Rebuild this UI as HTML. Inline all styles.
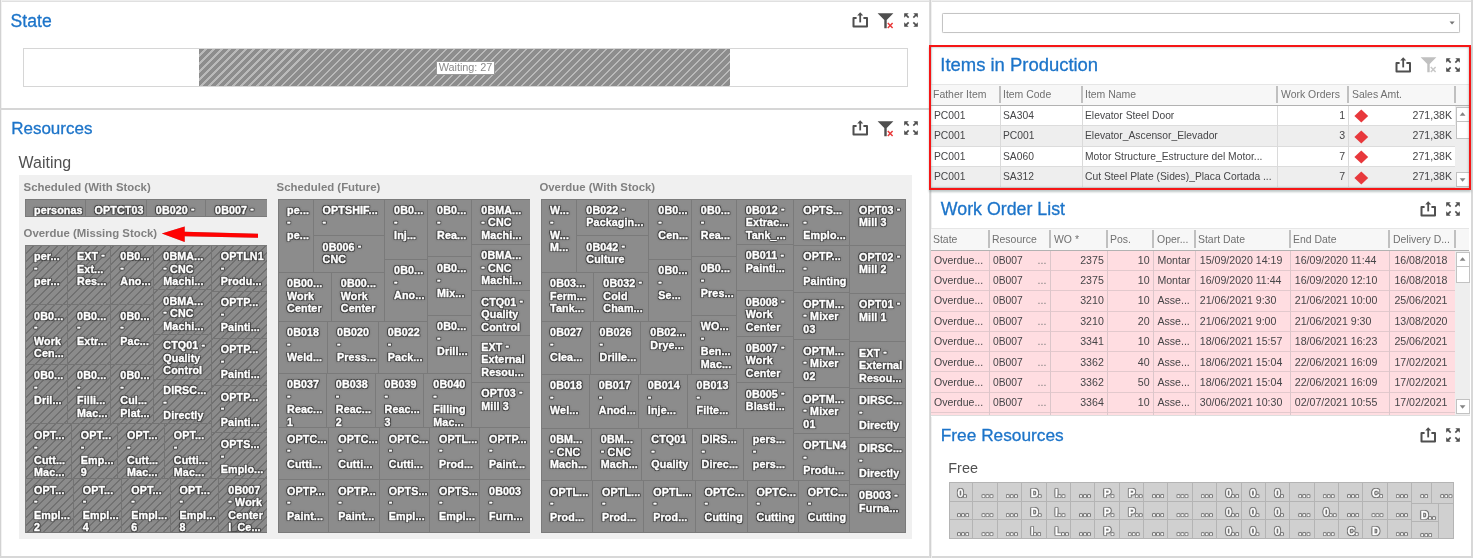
<!DOCTYPE html>
<html><head><meta charset="utf-8"><title>Dashboard</title>
<style>
*{box-sizing:border-box;margin:0;padding:0}
html,body{width:1473px;height:558px;overflow:hidden;background:#fff}
body{font-family:"Liberation Sans",sans-serif;position:relative;color:#404040}
#pg{position:absolute;left:0;top:0;width:1473px;height:558px;overflow:hidden;filter:blur(0.45px)}
.abs{position:absolute}
svg{overflow:visible}
.ttl{position:absolute;color:#1c74c9;white-space:nowrap;line-height:1;-webkit-text-stroke:0.3px #1c74c9}
.sub{position:absolute;color:#505050;white-space:nowrap;line-height:1}
.gt{position:absolute;font-weight:bold;font-size:11.4px;color:#808080;white-space:nowrap;line-height:1}
.tm{position:absolute;background:#8c8c8c;overflow:hidden}
.c{position:absolute;overflow:hidden;border-right:1px solid #7a7a7a;border-bottom:1px solid #7a7a7a;
   color:#fff;font-weight:bold;font-size:10.7px;line-height:12.5px;padding:4.5px 0 0 9.1px;white-space:nowrap;letter-spacing:0.12px;
   -webkit-text-stroke:0.35px #fff;
   text-shadow:1px 0 0 #424242,-1px 0 0 #424242,0 1px 0 #424242,0 -1px 0 #424242,1px 1px 0 #4c4c4c,-1px -1px 0 #4c4c4c,1px -1px 0 #4c4c4c,-1px 1px 0 #4c4c4c,0 0 2px #444,0 0 3px #555}
.c i,.fc i{font-style:normal;position:relative;top:-1.6px}
.hatch .c{border-color:#747474}
.fc{position:absolute;overflow:hidden;border-right:1px solid #b4b4b4;border-bottom:1px solid #b4b4b4;
   color:#fff;font-weight:bold;font-size:10.7px;line-height:12.6px;padding:4.1px 0 0 8.5px;white-space:nowrap;
   -webkit-text-stroke:0.3px #fff;
   text-shadow:1px 0 0 #707070,-1px 0 0 #707070,0 1px 0 #707070,0 -1px 0 #707070,1px 1px 0 #808080,-1px -1px 0 #808080,1px -1px 0 #808080,-1px 1px 0 #808080,0 0 2px #777}
.fc .d{letter-spacing:1.1px}
.hd{position:absolute;font-size:10.8px;color:#707070;white-space:nowrap;line-height:1}
.td{position:absolute;font-size:10.6px;color:#464648;white-space:nowrap;line-height:1}
.r{text-align:right}
</style></head><body><div id="pg">

<div class="abs" style="left:0;top:0;width:1473px;height:1px;background:#eeeeee"></div>
<div class="abs" style="left:0;top:1px;width:1473px;height:1px;background:#e0e0e0"></div>
<div class="abs" style="left:0;top:0;width:1px;height:558px;background:#d2d2d2"></div>
<div class="abs" style="left:1px;top:0;width:1px;height:558px;background:#f2f2f2"></div>
<div class="abs" style="left:0;top:108px;width:930px;height:2px;background:#d6d6d6"></div>
<div class="abs" style="left:0;top:556px;width:1473px;height:2px;background:#d8d8d8"></div>
<div class="abs" style="left:1471px;top:0;width:2px;height:558px;background:#d8d8d8"></div>
<div class="abs" style="left:929px;top:0;width:1px;height:558px;background:#dcdcdc"></div>
<div class="abs" style="left:930px;top:0;width:1px;height:558px;background:#d2d2d2"></div>
<div class="abs" style="left:931px;top:0;width:1px;height:558px;background:#f0f0f0"></div>
<div class="ttl" style="left:10.6px;top:12.50px;font-size:17.6px;">State</div>
<div class="ttl" style="left:11.2px;top:120.30px;font-size:17.0px;">Resources</div>
<div class="sub" style="left:18.6px;top:154.83px;font-size:15.95px;">Waiting</div>
<div class="ttl" style="left:940.3px;top:55.57px;font-size:18.45px;">Items in Production</div>
<div class="ttl" style="left:940.8px;top:201.40px;font-size:17.8px;">Work Order List</div>
<div class="ttl" style="left:940.8px;top:426.65px;font-size:17.3px;">Free Resources</div>
<div class="sub" style="left:948.3px;top:461.10px;font-size:14.4px;">Free</div>
<svg class="abs" style="left:852.3px;top:12.4px" width="17" height="17" viewBox="0 0 17 17"><path d="M4.6 6 H1.5 V14.5 H15 V6 H11.4" fill="none" stroke="#4f4f4f" stroke-width="2" stroke-linejoin="round"/><path d="M8.2 10.4 V2.5" fill="none" stroke="#4f4f4f" stroke-width="1.8"/><path d="M8.2 0.2 L11.2 3.6 H5.2 Z" fill="#4f4f4f"/></svg>
<svg class="abs" style="left:878.1px;top:12.7px" width="17" height="17" viewBox="0 0 17 17"><path d="M-0.4 0.2 H15.4 L8.7 7 V15.2 H6.3 V7 Z" fill="#4f4f4f"/><path d="M9.8 10 L14.6 15 M14.6 10 L9.8 15" stroke="#e83a3a" stroke-width="1.5" fill="none"/></svg>
<svg class="abs" style="left:904px;top:13.1px" width="14" height="14" viewBox="0 0 13.8 13.8"><path d="M0.2 0.2 L4.6000000000000005 0.2 L0.2 4.6000000000000005 Z" fill="#4f4f4f"/><path d="M1.4 1.4 L4.6000000000000005 4.6000000000000005" stroke="#4f4f4f" stroke-width="1.6"/><path d="M13.6 0.2 L9.2 0.2 L13.6 4.6000000000000005 Z" fill="#4f4f4f"/><path d="M12.4 1.4 L9.2 4.6000000000000005" stroke="#4f4f4f" stroke-width="1.6"/><path d="M0.2 13.6 L4.6000000000000005 13.6 L0.2 9.2 Z" fill="#4f4f4f"/><path d="M1.4 12.4 L4.6000000000000005 9.2" stroke="#4f4f4f" stroke-width="1.6"/><path d="M13.6 13.6 L9.2 13.6 L13.6 9.2 Z" fill="#4f4f4f"/><path d="M12.4 12.4 L9.2 9.2" stroke="#4f4f4f" stroke-width="1.6"/></svg>
<svg class="abs" style="left:852.3px;top:120.4px" width="17" height="17" viewBox="0 0 17 17"><path d="M4.6 6 H1.5 V14.5 H15 V6 H11.4" fill="none" stroke="#4f4f4f" stroke-width="2" stroke-linejoin="round"/><path d="M8.2 10.4 V2.5" fill="none" stroke="#4f4f4f" stroke-width="1.8"/><path d="M8.2 0.2 L11.2 3.6 H5.2 Z" fill="#4f4f4f"/></svg>
<svg class="abs" style="left:878.1px;top:120.7px" width="17" height="17" viewBox="0 0 17 17"><path d="M-0.4 0.2 H15.4 L8.7 7 V15.2 H6.3 V7 Z" fill="#4f4f4f"/><path d="M9.8 10 L14.6 15 M14.6 10 L9.8 15" stroke="#e83a3a" stroke-width="1.5" fill="none"/></svg>
<svg class="abs" style="left:904px;top:121.1px" width="14" height="14" viewBox="0 0 13.8 13.8"><path d="M0.2 0.2 L4.6000000000000005 0.2 L0.2 4.6000000000000005 Z" fill="#4f4f4f"/><path d="M1.4 1.4 L4.6000000000000005 4.6000000000000005" stroke="#4f4f4f" stroke-width="1.6"/><path d="M13.6 0.2 L9.2 0.2 L13.6 4.6000000000000005 Z" fill="#4f4f4f"/><path d="M12.4 1.4 L9.2 4.6000000000000005" stroke="#4f4f4f" stroke-width="1.6"/><path d="M0.2 13.6 L4.6000000000000005 13.6 L0.2 9.2 Z" fill="#4f4f4f"/><path d="M1.4 12.4 L4.6000000000000005 9.2" stroke="#4f4f4f" stroke-width="1.6"/><path d="M13.6 13.6 L9.2 13.6 L13.6 9.2 Z" fill="#4f4f4f"/><path d="M12.4 12.4 L9.2 9.2" stroke="#4f4f4f" stroke-width="1.6"/></svg>
<svg class="abs" style="left:1394.8px;top:56.8px" width="17" height="17" viewBox="0 0 17 17"><path d="M4.6 6 H1.5 V14.5 H15 V6 H11.4" fill="none" stroke="#4f4f4f" stroke-width="2" stroke-linejoin="round"/><path d="M8.2 10.4 V2.5" fill="none" stroke="#4f4f4f" stroke-width="1.8"/><path d="M8.2 0.2 L11.2 3.6 H5.2 Z" fill="#4f4f4f"/></svg>
<svg class="abs" style="left:1420.5px;top:57.2px" width="17" height="17" viewBox="0 0 17 17"><path d="M-0.4 0.2 H15.4 L8.7 7 V15.2 H6.3 V7 Z" fill="#c0c0c0"/><path d="M9.8 10 L14.6 15 M14.6 10 L9.8 15" stroke="#c8c8c8" stroke-width="1.5" fill="none"/></svg>
<svg class="abs" style="left:1446.2px;top:57.8px" width="14" height="14" viewBox="0 0 13.8 13.8"><path d="M0.2 0.2 L4.6000000000000005 0.2 L0.2 4.6000000000000005 Z" fill="#4f4f4f"/><path d="M1.4 1.4 L4.6000000000000005 4.6000000000000005" stroke="#4f4f4f" stroke-width="1.6"/><path d="M13.6 0.2 L9.2 0.2 L13.6 4.6000000000000005 Z" fill="#4f4f4f"/><path d="M12.4 1.4 L9.2 4.6000000000000005" stroke="#4f4f4f" stroke-width="1.6"/><path d="M0.2 13.6 L4.6000000000000005 13.6 L0.2 9.2 Z" fill="#4f4f4f"/><path d="M1.4 12.4 L4.6000000000000005 9.2" stroke="#4f4f4f" stroke-width="1.6"/><path d="M13.6 13.6 L9.2 13.6 L13.6 9.2 Z" fill="#4f4f4f"/><path d="M12.4 12.4 L9.2 9.2" stroke="#4f4f4f" stroke-width="1.6"/></svg>
<svg class="abs" style="left:1420px;top:200.8px" width="17" height="17" viewBox="0 0 17 17"><path d="M4.6 6 H1.5 V14.5 H15 V6 H11.4" fill="none" stroke="#4f4f4f" stroke-width="2" stroke-linejoin="round"/><path d="M8.2 10.4 V2.5" fill="none" stroke="#4f4f4f" stroke-width="1.8"/><path d="M8.2 0.2 L11.2 3.6 H5.2 Z" fill="#4f4f4f"/></svg>
<svg class="abs" style="left:1446.2px;top:201.8px" width="14" height="14" viewBox="0 0 13.8 13.8"><path d="M0.2 0.2 L4.6000000000000005 0.2 L0.2 4.6000000000000005 Z" fill="#4f4f4f"/><path d="M1.4 1.4 L4.6000000000000005 4.6000000000000005" stroke="#4f4f4f" stroke-width="1.6"/><path d="M13.6 0.2 L9.2 0.2 L13.6 4.6000000000000005 Z" fill="#4f4f4f"/><path d="M12.4 1.4 L9.2 4.6000000000000005" stroke="#4f4f4f" stroke-width="1.6"/><path d="M0.2 13.6 L4.6000000000000005 13.6 L0.2 9.2 Z" fill="#4f4f4f"/><path d="M1.4 12.4 L4.6000000000000005 9.2" stroke="#4f4f4f" stroke-width="1.6"/><path d="M13.6 13.6 L9.2 13.6 L13.6 9.2 Z" fill="#4f4f4f"/><path d="M12.4 12.4 L9.2 9.2" stroke="#4f4f4f" stroke-width="1.6"/></svg>
<svg class="abs" style="left:1420px;top:426.8px" width="17" height="17" viewBox="0 0 17 17"><path d="M4.6 6 H1.5 V14.5 H15 V6 H11.4" fill="none" stroke="#4f4f4f" stroke-width="2" stroke-linejoin="round"/><path d="M8.2 10.4 V2.5" fill="none" stroke="#4f4f4f" stroke-width="1.8"/><path d="M8.2 0.2 L11.2 3.6 H5.2 Z" fill="#4f4f4f"/></svg>
<svg class="abs" style="left:1446.2px;top:427.8px" width="14" height="14" viewBox="0 0 13.8 13.8"><path d="M0.2 0.2 L4.6000000000000005 0.2 L0.2 4.6000000000000005 Z" fill="#4f4f4f"/><path d="M1.4 1.4 L4.6000000000000005 4.6000000000000005" stroke="#4f4f4f" stroke-width="1.6"/><path d="M13.6 0.2 L9.2 0.2 L13.6 4.6000000000000005 Z" fill="#4f4f4f"/><path d="M12.4 1.4 L9.2 4.6000000000000005" stroke="#4f4f4f" stroke-width="1.6"/><path d="M0.2 13.6 L4.6000000000000005 13.6 L0.2 9.2 Z" fill="#4f4f4f"/><path d="M1.4 12.4 L4.6000000000000005 9.2" stroke="#4f4f4f" stroke-width="1.6"/><path d="M13.6 13.6 L9.2 13.6 L13.6 9.2 Z" fill="#4f4f4f"/><path d="M12.4 12.4 L9.2 9.2" stroke="#4f4f4f" stroke-width="1.6"/></svg>
<div class="abs" style="left:23px;top:48px;width:885px;height:39px;border:1px solid #d6d6d6;background:#fff"></div>
<div class="abs" style="left:199px;top:48.5px;width:531px;height:37.5px;background:repeating-linear-gradient(135deg,#8d8d8d 0,#8d8d8d 4.2px,#bababa 4.2px,#bababa 5.66px)"></div>
<div class="abs" style="left:436px;top:60.5px;width:59px;height:14px;background:#fff;border:1px solid #9a9a9a;font-size:10.9px;line-height:10.4px;text-align:center;color:#8a8a8a;white-space:nowrap;overflow:hidden;letter-spacing:-0.05px">Waiting: 27</div>
<div class="abs" style="left:18.75px;top:175px;width:893.5px;height:363.6px;background:#f0f0f0"></div>
<div class="gt" style="left:23.6px;top:181.60px">Scheduled (With Stock)</div>
<div class="gt" style="left:23.6px;top:227.60px">Overdue (Missing Stock)</div>
<div class="gt" style="left:276.6px;top:181.60px">Scheduled (Future)</div>
<div class="gt" style="left:539.4px;top:181.60px">Overdue (With Stock)</div>
<div class="tm" style="left:24.5px;top:198.75px;width:242.50px;height:18.00px;border-left:1px solid #7b7b7b;border-top:1px solid #7b7b7b">
<div class="c" style="left:-0.50px;top:-0.50px;width:60.50px;height:18.00px">personas</div>
<div class="c" style="left:60.00px;top:-0.50px;width:61.25px;height:18.00px">OPTCT03</div>
<div class="c" style="left:121.25px;top:-0.50px;width:59.25px;height:18.00px">0B020 <i>-</i></div>
<div class="c" style="left:180.50px;top:-0.50px;width:61.50px;height:18.00px">0B007 <i>-</i></div>
</div>
<div class="tm hatch" style="left:24.5px;top:245px;width:242.50px;height:287.75px;background:repeating-linear-gradient(135deg,#8b8b8b 0,#8b8b8b 4.45px,#717171 4.45px,#717171 5.66px);border-left:1px solid #7b7b7b;border-top:1px solid #7b7b7b">
<div class="c" style="left:-0.50px;top:-0.50px;width:43.00px;height:59.50px">per...<br><i>-</i><br>per...</div>
<div class="c" style="left:42.50px;top:-0.50px;width:43.25px;height:59.50px">EXT <i>-</i><br>Ext...<br>Res...</div>
<div class="c" style="left:85.75px;top:-0.50px;width:43.00px;height:59.50px">0B0...<br><i>-</i><br>Ano...</div>
<div class="c" style="left:-0.50px;top:59.00px;width:43.00px;height:59.75px">0B0...<br><i>-</i><br>Work<br>Cen...</div>
<div class="c" style="left:42.50px;top:59.00px;width:43.25px;height:59.75px">0B0...<br><i>-</i><br>Extr...</div>
<div class="c" style="left:85.75px;top:59.00px;width:43.00px;height:59.75px">0B0...<br><i>-</i><br>Pac...</div>
<div class="c" style="left:-0.50px;top:118.75px;width:43.00px;height:59.50px">0B0...<br><i>-</i><br>Dril...</div>
<div class="c" style="left:42.50px;top:118.75px;width:43.25px;height:59.50px">0B0...<br><i>-</i><br>Filli...<br>Mac...</div>
<div class="c" style="left:85.75px;top:118.75px;width:43.00px;height:59.50px">0B0...<br><i>-</i><br>Cul...<br>Plat...</div>
<div class="c" style="left:128.75px;top:-0.50px;width:57.50px;height:44.50px">0BMA...<br><i>-</i> CNC<br>Machi...</div>
<div class="c" style="left:128.75px;top:44.00px;width:57.50px;height:44.75px">0BMA...<br><i>-</i> CNC<br>Machi...</div>
<div class="c" style="left:128.75px;top:88.75px;width:57.50px;height:45.00px">CTQ01 <i>-</i><br>Quality<br>Control</div>
<div class="c" style="left:128.75px;top:133.75px;width:57.50px;height:44.50px">DIRSC...<br><i>-</i><br>Directly</div>
<div class="c" style="left:186.25px;top:-0.50px;width:55.75px;height:46.25px">OPTLN1<br><i>-</i><br>Produ...</div>
<div class="c" style="left:186.25px;top:45.75px;width:55.75px;height:46.75px">OPTP...<br><i>-</i><br>Painti...</div>
<div class="c" style="left:186.25px;top:92.50px;width:55.75px;height:47.50px">OPTP...<br><i>-</i><br>Painti...</div>
<div class="c" style="left:186.25px;top:140.00px;width:55.75px;height:47.25px">OPTP...<br><i>-</i><br>Painti...</div>
<div class="c" style="left:186.25px;top:187.25px;width:55.75px;height:45.75px">OPTS...<br><i>-</i><br>Emplo...</div>
<div class="c" style="left:-0.50px;top:178.25px;width:46.75px;height:54.75px">OPT...<br><i>-</i><br>Cutt...<br>Mac...</div>
<div class="c" style="left:46.25px;top:178.25px;width:46.25px;height:54.75px">OPT...<br><i>-</i><br>Emp...<br>9</div>
<div class="c" style="left:92.50px;top:178.25px;width:46.75px;height:54.75px">OPT...<br><i>-</i><br>Cutt...<br>Mac...</div>
<div class="c" style="left:139.25px;top:178.25px;width:47.00px;height:54.75px">OPT...<br><i>-</i><br>Cutti...<br>Mac...</div>
<div class="c" style="left:-0.50px;top:233.00px;width:48.75px;height:54.25px">OPT...<br><i>-</i><br>Empl...<br>2</div>
<div class="c" style="left:48.25px;top:233.00px;width:48.50px;height:54.25px">OPT...<br><i>-</i><br>Empl...<br>4</div>
<div class="c" style="left:96.75px;top:233.00px;width:48.25px;height:54.25px">OPT...<br><i>-</i><br>Empl...<br>6</div>
<div class="c" style="left:145.00px;top:233.00px;width:48.75px;height:54.25px">OPT...<br><i>-</i><br>Empl...<br>8</div>
<div class="c" style="left:193.75px;top:233.00px;width:48.25px;height:54.25px">0B007<br><i>-</i> Work<br>Center<br>I_Ce...</div>
</div>
<div class="tm" style="left:277.5px;top:198.75px;width:252.50px;height:333.75px;border-left:1px solid #7b7b7b;border-top:1px solid #7b7b7b">
<div class="c" style="left:-0.50px;top:-0.50px;width:35.50px;height:73.25px">pe...<br><i>-</i><br>pe...</div>
<div class="c" style="left:35.00px;top:-0.50px;width:71.50px;height:36.75px">OPTSHIF...<br><i>-</i></div>
<div class="c" style="left:35.00px;top:36.25px;width:71.50px;height:36.50px">0B006 <i>-</i><br>CNC</div>
<div class="c" style="left:106.50px;top:-0.50px;width:43.00px;height:60.50px">0B0...<br><i>-</i><br>Inj...</div>
<div class="c" style="left:106.50px;top:60.00px;width:43.00px;height:62.00px">0B0...<br><i>-</i><br>Ano...</div>
<div class="c" style="left:149.50px;top:-0.50px;width:44.25px;height:58.00px">0B0...<br><i>-</i><br>Rea...</div>
<div class="c" style="left:149.50px;top:57.50px;width:44.25px;height:58.25px">0B0...<br><i>-</i><br>Mix...</div>
<div class="c" style="left:149.50px;top:115.75px;width:44.25px;height:58.25px">0B0...<br><i>-</i><br>Drill...</div>
<div class="c" style="left:193.75px;top:-0.50px;width:58.25px;height:45.50px">0BMA...<br><i>-</i> CNC<br>Machi...</div>
<div class="c" style="left:193.75px;top:45.00px;width:58.25px;height:46.25px">0BMA...<br><i>-</i> CNC<br>Machi...</div>
<div class="c" style="left:193.75px;top:91.25px;width:58.25px;height:45.25px">CTQ01 <i>-</i><br>Quality<br>Control</div>
<div class="c" style="left:193.75px;top:136.50px;width:58.25px;height:46.25px">EXT <i>-</i><br>External<br>Resou...</div>
<div class="c" style="left:193.75px;top:182.75px;width:58.25px;height:45.50px">OPT03 <i>-</i><br>Mill 3</div>
<div class="c" style="left:-0.50px;top:72.75px;width:53.75px;height:49.25px">0B00...<br>Work<br>Center</div>
<div class="c" style="left:53.25px;top:72.75px;width:53.25px;height:49.25px">0B00...<br>Work<br>Center</div>
<div class="c" style="left:-0.50px;top:122.00px;width:50.00px;height:52.00px">0B018<br><i>-</i><br>Weld...</div>
<div class="c" style="left:49.50px;top:122.00px;width:50.75px;height:52.00px">0B020<br><i>-</i><br>Press...</div>
<div class="c" style="left:100.25px;top:122.00px;width:49.25px;height:52.00px">0B022<br><i>-</i><br>Pack...</div>
<div class="c" style="left:-0.50px;top:174.00px;width:48.75px;height:54.25px">0B037<br><i>-</i><br>Reac...<br>1</div>
<div class="c" style="left:48.25px;top:174.00px;width:48.75px;height:54.25px">0B038<br><i>-</i><br>Reac...<br>2</div>
<div class="c" style="left:97.00px;top:174.00px;width:48.75px;height:54.25px">0B039<br><i>-</i><br>Reac...<br>3</div>
<div class="c" style="left:145.75px;top:174.00px;width:48.00px;height:54.25px">0B040<br><i>-</i><br>Filling<br>Mac...</div>
<div class="c" style="left:-0.50px;top:228.25px;width:51.25px;height:52.00px">OPTC...<br><i>-</i><br>Cutti...</div>
<div class="c" style="left:50.75px;top:228.25px;width:50.50px;height:52.00px">OPTC...<br><i>-</i><br>Cutti...</div>
<div class="c" style="left:101.25px;top:228.25px;width:50.25px;height:52.00px">OPTC...<br><i>-</i><br>Cutti...</div>
<div class="c" style="left:151.50px;top:228.25px;width:50.00px;height:52.00px">OPTL...<br><i>-</i><br>Prod...</div>
<div class="c" style="left:201.50px;top:228.25px;width:50.50px;height:52.00px">OPTP...<br><i>-</i><br>Paint...</div>
<div class="c" style="left:-0.50px;top:280.25px;width:51.25px;height:53.00px">OPTP...<br><i>-</i><br>Paint...</div>
<div class="c" style="left:50.75px;top:280.25px;width:50.50px;height:53.00px">OPTP...<br><i>-</i><br>Paint...</div>
<div class="c" style="left:101.25px;top:280.25px;width:50.25px;height:53.00px">OPTS...<br><i>-</i><br>Empl...</div>
<div class="c" style="left:151.50px;top:280.25px;width:50.00px;height:53.00px">OPTS...<br><i>-</i><br>Empl...</div>
<div class="c" style="left:201.50px;top:280.25px;width:50.50px;height:53.00px">0B003<br><i>-</i><br>Furn...</div>
</div>
<div class="tm" style="left:540.5px;top:198.75px;width:365.25px;height:333.75px;border-left:1px solid #7b7b7b;border-top:1px solid #7b7b7b">
<div class="c" style="left:-0.50px;top:-0.50px;width:36.25px;height:73.25px">W...<br><i>-</i><br>W...<br>M...</div>
<div class="c" style="left:35.75px;top:-0.50px;width:72.00px;height:36.75px">0B022 <i>-</i><br>Packagin...</div>
<div class="c" style="left:35.75px;top:36.25px;width:72.00px;height:36.50px">0B042 <i>-</i><br>Culture</div>
<div class="c" style="left:107.75px;top:-0.50px;width:42.50px;height:60.50px">0B0...<br><i>-</i><br>Cen...</div>
<div class="c" style="left:107.75px;top:60.00px;width:42.50px;height:62.00px">0B0...<br><i>-</i><br>Se...</div>
<div class="c" style="left:150.25px;top:-0.50px;width:45.00px;height:58.00px">0B0...<br><i>-</i><br>Rea...</div>
<div class="c" style="left:150.25px;top:57.50px;width:45.00px;height:58.25px">0B0...<br><i>-</i><br>Pres...</div>
<div class="c" style="left:150.25px;top:115.75px;width:45.00px;height:59.25px">WO...<br><i>-</i><br>Ben...<br>Mac...</div>
<div class="c" style="left:-0.50px;top:72.75px;width:53.25px;height:49.25px">0B03...<br>Ferm...<br>Tank...</div>
<div class="c" style="left:52.75px;top:72.75px;width:55.00px;height:49.25px">0B032 <i>-</i><br>Cold<br>Cham...</div>
<div class="c" style="left:-0.50px;top:122.00px;width:49.50px;height:53.00px">0B027<br><i>-</i><br>Clea...</div>
<div class="c" style="left:49.00px;top:122.00px;width:50.75px;height:53.00px">0B026<br><i>-</i><br>Drille...</div>
<div class="c" style="left:99.75px;top:122.00px;width:50.50px;height:53.00px">0B02...<br>Drye...</div>
<div class="c" style="left:-0.50px;top:175.00px;width:48.75px;height:53.75px">0B018<br><i>-</i><br>Wel...</div>
<div class="c" style="left:48.25px;top:175.00px;width:49.00px;height:53.75px">0B017<br><i>-</i><br>Anod...</div>
<div class="c" style="left:97.25px;top:175.00px;width:48.75px;height:53.75px">0B014<br><i>-</i><br>Inje...</div>
<div class="c" style="left:146.00px;top:175.00px;width:49.25px;height:53.75px">0B013<br><i>-</i><br>Filte...</div>
<div class="c" style="left:195.25px;top:-0.50px;width:57.50px;height:45.50px">0B012 <i>-</i><br>Extrac...<br>Tank_...</div>
<div class="c" style="left:195.25px;top:45.00px;width:57.50px;height:46.25px">0B011 <i>-</i><br>Painti...</div>
<div class="c" style="left:195.25px;top:91.25px;width:57.50px;height:46.25px">0B008 <i>-</i><br>Work<br>Center</div>
<div class="c" style="left:195.25px;top:137.50px;width:57.50px;height:45.75px">0B007 <i>-</i><br>Work<br>Center</div>
<div class="c" style="left:195.25px;top:183.25px;width:57.50px;height:45.50px">0B005 <i>-</i><br>Blasti...</div>
<div class="c" style="left:252.75px;top:-0.50px;width:55.75px;height:46.25px">OPTS...<br><i>-</i><br>Emplo...</div>
<div class="c" style="left:252.75px;top:45.75px;width:55.75px;height:47.50px">OPTP...<br><i>-</i><br>Painting</div>
<div class="c" style="left:252.75px;top:93.25px;width:55.75px;height:47.00px">OPTM...<br><i>-</i> Mixer<br>03</div>
<div class="c" style="left:252.75px;top:140.25px;width:55.75px;height:48.00px">OPTM...<br><i>-</i> Mixer<br>02</div>
<div class="c" style="left:252.75px;top:188.25px;width:55.75px;height:46.25px">OPTM...<br><i>-</i> Mixer<br>01</div>
<div class="c" style="left:252.75px;top:234.50px;width:55.75px;height:46.75px">OPTLN4<br><i>-</i><br>Produ...</div>
<div class="c" style="left:308.50px;top:-0.50px;width:56.25px;height:47.00px">OPT03 <i>-</i><br>Mill 3</div>
<div class="c" style="left:308.50px;top:46.50px;width:56.25px;height:47.25px">OPT02 <i>-</i><br>Mill 2</div>
<div class="c" style="left:308.50px;top:93.75px;width:56.25px;height:48.75px">OPT01 <i>-</i><br>Mill 1</div>
<div class="c" style="left:308.50px;top:142.50px;width:56.25px;height:47.00px">EXT <i>-</i><br>External<br>Resou...</div>
<div class="c" style="left:308.50px;top:189.50px;width:56.25px;height:48.25px">DIRSC...<br><i>-</i><br>Directly</div>
<div class="c" style="left:308.50px;top:237.75px;width:56.25px;height:47.25px">DIRSC...<br><i>-</i><br>Directly</div>
<div class="c" style="left:308.50px;top:285.00px;width:56.25px;height:48.25px">0B003 <i>-</i><br>Furna...</div>
<div class="c" style="left:-0.50px;top:228.75px;width:50.75px;height:52.50px">0BM...<br><i>-</i> CNC<br>Mach...</div>
<div class="c" style="left:50.25px;top:228.75px;width:50.50px;height:52.50px">0BM...<br><i>-</i> CNC<br>Mach...</div>
<div class="c" style="left:100.75px;top:228.75px;width:50.25px;height:52.50px">CTQ01<br><i>-</i><br>Quality</div>
<div class="c" style="left:151.00px;top:228.75px;width:51.25px;height:52.50px">DIRS...<br><i>-</i><br>Direc...</div>
<div class="c" style="left:202.25px;top:228.75px;width:50.50px;height:52.50px">pers...<br><i>-</i><br>pers...</div>
<div class="c" style="left:-0.50px;top:281.25px;width:52.00px;height:52.00px">OPTL...<br><i>-</i><br>Prod...</div>
<div class="c" style="left:51.50px;top:281.25px;width:51.25px;height:52.00px">OPTL...<br><i>-</i><br>Prod...</div>
<div class="c" style="left:102.75px;top:281.25px;width:51.25px;height:52.00px">OPTL...<br><i>-</i><br>Prod...</div>
<div class="c" style="left:154.00px;top:281.25px;width:52.00px;height:52.00px">OPTC...<br><i>-</i><br>Cutting</div>
<div class="c" style="left:206.00px;top:281.25px;width:51.25px;height:52.00px">OPTC...<br><i>-</i><br>Cutting</div>
<div class="c" style="left:257.25px;top:281.25px;width:51.25px;height:52.00px">OPTC...<br><i>-</i><br>Cutting</div>
</div>
<svg class="abs" style="left:158px;top:222px;filter:drop-shadow(0.8px 0.8px 0.6px rgba(90,115,125,.55))" width="106" height="24" viewBox="158 222 106 24"><path d="M161.8 233.5 L184.7 226.4 L184.7 231.8 L258 233.85 L258 237.8 L184.7 236.3 L184.7 242.1 Z" fill="#ff0202"/></svg>
<div class="abs" style="left:942px;top:13px;width:518px;height:19.5px;border:1px solid #c4c4c4;border-radius:1.5px;box-shadow:0 0 0.8px #cfcfcf;background:#fff"></div>
<svg class="abs" style="left:1448.6px;top:21.2px" width="6.2" height="4" viewBox="0 0 7 5"><path d="M0.3 0.5 H6.7 L3.5 4.3 Z" fill="#747474"/></svg>
<div class="abs" style="left:931px;top:84px;width:538px;height:21px;background:#f7f7f7;border-top:1px solid #e6e6e6"></div>
<div class="abs" style="left:931px;top:105px;width:538px;height:1px;background:#b2b2b2"></div>
<div class="abs" style="left:999px;top:86px;width:2px;height:17px;background:#c0c0c0"></div>
<div class="abs" style="left:1081px;top:86px;width:2px;height:17px;background:#c0c0c0"></div>
<div class="abs" style="left:1276px;top:86px;width:2px;height:17px;background:#c0c0c0"></div>
<div class="abs" style="left:1347px;top:86px;width:2px;height:17px;background:#c0c0c0"></div>
<div class="abs" style="left:1454px;top:86px;width:2px;height:17px;background:#c0c0c0"></div>
<div class="hd" style="left:933px;top:88.80px;font-size:11px;transform:scaleX(0.95);transform-origin:left;">Father Item</div>
<div class="hd" style="left:1003.3px;top:88.80px;font-size:11px;transform:scaleX(0.95);transform-origin:left;">Item Code</div>
<div class="hd" style="left:1085.3px;top:88.80px;font-size:11px;transform:scaleX(0.95);transform-origin:left;">Item Name</div>
<div class="hd" style="left:1280.5px;top:88.80px;font-size:11px;transform:scaleX(0.95);transform-origin:left;">Work Orders</div>
<div class="hd" style="left:1351.8px;top:88.80px;font-size:11px;transform:scaleX(0.95);transform-origin:left;">Sales Amt.</div>
<div class="abs" style="left:931px;top:106px;width:524.5px;height:20px;background:#ffffff;border-bottom:1px solid #dcdcdc"></div>
<div class="td" style="left:934.2px;top:110.00px;font-size:10.6px;transform:scaleX(0.972);transform-origin:left;">PC001</div>
<div class="td" style="left:1003.2px;top:110.00px;font-size:10.6px;transform:scaleX(0.972);transform-origin:left;">SA304</div>
<div class="td" style="left:1085.4px;top:110.00px;font-size:10.6px;transform:scaleX(0.972);transform-origin:left;">Elevator Steel Door</div>
<div class="td r" style="left:1305.2px;width:40px;top:110.00px;font-size:10.6px;transform:scaleX(1.0);transform-origin:right;">1</div>
<div class="td r" style="left:1392px;width:60px;top:110.00px;font-size:10.6px;transform:scaleX(1.0);transform-origin:right;">271,38K</div>
<svg class="abs" style="left:1354px;top:109.20px" width="15" height="14" viewBox="0 0 15 14"><path d="M7.3 0.4 L14.2 7 L7.3 13.6 L0.4 7 Z" fill="#e8383c"/></svg>
<div class="abs" style="left:931px;top:126px;width:524.5px;height:21px;background:#eeeeee;border-bottom:1px solid #dcdcdc"></div>
<div class="td" style="left:934.2px;top:130.00px;font-size:10.6px;transform:scaleX(0.972);transform-origin:left;">PC001</div>
<div class="td" style="left:1003.2px;top:130.00px;font-size:10.6px;transform:scaleX(0.972);transform-origin:left;">PC001</div>
<div class="td" style="left:1085.4px;top:130.00px;font-size:10.6px;transform:scaleX(0.972);transform-origin:left;">Elevator_Ascensor_Elevador</div>
<div class="td r" style="left:1305.2px;width:40px;top:130.00px;font-size:10.6px;transform:scaleX(1.0);transform-origin:right;">3</div>
<div class="td r" style="left:1392px;width:60px;top:130.00px;font-size:10.6px;transform:scaleX(1.0);transform-origin:right;">271,38K</div>
<svg class="abs" style="left:1354px;top:129.70px" width="15" height="14" viewBox="0 0 15 14"><path d="M7.3 0.4 L14.2 7 L7.3 13.6 L0.4 7 Z" fill="#e8383c"/></svg>
<div class="abs" style="left:931px;top:147px;width:524.5px;height:20px;background:#ffffff;border-bottom:1px solid #dcdcdc"></div>
<div class="td" style="left:934.2px;top:151.00px;font-size:10.6px;transform:scaleX(0.972);transform-origin:left;">PC001</div>
<div class="td" style="left:1003.2px;top:151.00px;font-size:10.6px;transform:scaleX(0.972);transform-origin:left;">SA060</div>
<div class="td" style="left:1085.4px;top:151.00px;font-size:10.6px;transform:scaleX(0.972);transform-origin:left;">Motor Structure_Estructure del Motor...</div>
<div class="td r" style="left:1305.2px;width:40px;top:151.00px;font-size:10.6px;transform:scaleX(1.0);transform-origin:right;">7</div>
<div class="td r" style="left:1392px;width:60px;top:151.00px;font-size:10.6px;transform:scaleX(1.0);transform-origin:right;">271,38K</div>
<svg class="abs" style="left:1354px;top:150.20px" width="15" height="14" viewBox="0 0 15 14"><path d="M7.3 0.4 L14.2 7 L7.3 13.6 L0.4 7 Z" fill="#e8383c"/></svg>
<div class="abs" style="left:931px;top:167px;width:524.5px;height:21px;background:#eeeeee;border-bottom:1px solid #dcdcdc"></div>
<div class="td" style="left:934.2px;top:171.00px;font-size:10.6px;transform:scaleX(0.972);transform-origin:left;">PC001</div>
<div class="td" style="left:1003.2px;top:171.00px;font-size:10.6px;transform:scaleX(0.972);transform-origin:left;">SA312</div>
<div class="td" style="left:1085.4px;top:171.00px;font-size:10.6px;transform:scaleX(0.972);transform-origin:left;">Cut Steel Plate (Sides)_Placa Cortada ...</div>
<div class="td r" style="left:1305.2px;width:40px;top:171.00px;font-size:10.6px;transform:scaleX(1.0);transform-origin:right;">7</div>
<div class="td r" style="left:1392px;width:60px;top:171.00px;font-size:10.6px;transform:scaleX(1.0);transform-origin:right;">271,38K</div>
<svg class="abs" style="left:1354px;top:170.70px" width="15" height="14" viewBox="0 0 15 14"><path d="M7.3 0.4 L14.2 7 L7.3 13.6 L0.4 7 Z" fill="#e8383c"/></svg>
<div class="abs" style="left:1000px;top:106px;width:1px;height:82px;background:#dadada"></div>
<div class="abs" style="left:1082px;top:106px;width:1px;height:82px;background:#dadada"></div>
<div class="abs" style="left:1277px;top:106px;width:1px;height:82px;background:#dadada"></div>
<div class="abs" style="left:1348px;top:106px;width:1px;height:82px;background:#dadada"></div>
<div class="abs" style="left:1455px;top:106px;width:1px;height:82px;background:#e0e0e0"></div>
<div class="abs" style="left:1455px;top:105.5px;width:15px;height:82.5px;background:#eeeeee"></div>
<div class="abs" style="left:1456px;top:107px;width:13.5px;height:14.5px;background:#fff;border:1px solid #c2c2c2"></div>
<svg class="abs" style="left:1459.2px;top:112px" width="7.2" height="4.2" viewBox="0 0 6 4"><path d="M3 0.3 L5.8 3.7 H0.2 Z" fill="#848484"/></svg>
<div class="abs" style="left:1456px;top:121.5px;width:13.5px;height:17.5px;background:#fff;border:1px solid #c2c2c2;border-top:none"></div>
<div class="abs" style="left:1456px;top:172.0px;width:13.5px;height:14.5px;background:#fff;border:1px solid #c2c2c2"></div>
<svg class="abs" style="left:1459.2px;top:177.5px" width="7.2" height="4.2" viewBox="0 0 6 4"><path d="M0.2 0.3 H5.8 L3 3.7 Z" fill="#848484"/></svg>
<div class="abs" style="left:929px;top:45px;width:542px;height:145px;border:2px solid #f51616;box-shadow:inset 0 0 2.5px rgba(110,130,130,.7),0 1.5px 2px rgba(110,130,130,.45);pointer-events:none"></div>
<div class="abs" style="left:931px;top:227.5px;width:538px;height:22.5px;background:#f7f7f7;border-top:1px solid #e6e6e6"></div>
<div class="abs" style="left:931px;top:250px;width:538px;height:1px;background:#b2b2b2"></div>
<div class="abs" style="left:988px;top:230px;width:2px;height:18px;background:#c0c0c0"></div>
<div class="abs" style="left:1049px;top:230px;width:2px;height:18px;background:#c0c0c0"></div>
<div class="abs" style="left:1106px;top:230px;width:2px;height:18px;background:#c0c0c0"></div>
<div class="abs" style="left:1152px;top:230px;width:2px;height:18px;background:#c0c0c0"></div>
<div class="abs" style="left:1194px;top:230px;width:2px;height:18px;background:#c0c0c0"></div>
<div class="abs" style="left:1289px;top:230px;width:2px;height:18px;background:#c0c0c0"></div>
<div class="abs" style="left:1388px;top:230px;width:2px;height:18px;background:#c0c0c0"></div>
<div class="abs" style="left:1454px;top:230px;width:2px;height:18px;background:#c0c0c0"></div>
<div class="hd" style="left:933px;top:233.80px;font-size:11px;transform:scaleX(0.95);transform-origin:left;">State</div>
<div class="hd" style="left:992.3px;top:233.80px;font-size:11px;transform:scaleX(0.95);transform-origin:left;">Resource</div>
<div class="hd" style="left:1054px;top:233.80px;font-size:11px;transform:scaleX(0.95);transform-origin:left;">WO *</div>
<div class="hd" style="left:1110.2px;top:233.80px;font-size:11px;transform:scaleX(0.95);transform-origin:left;">Pos.</div>
<div class="hd" style="left:1157px;top:233.80px;font-size:11px;transform:scaleX(0.95);transform-origin:left;">Oper...</div>
<div class="hd" style="left:1198px;top:233.80px;font-size:11px;transform:scaleX(0.95);transform-origin:left;">Start Date</div>
<div class="hd" style="left:1293px;top:233.80px;font-size:11px;transform:scaleX(0.95);transform-origin:left;">End Date</div>
<div class="hd" style="left:1392.5px;top:233.80px;font-size:11px;transform:scaleX(0.95);transform-origin:left;">Delivery D...</div>
<div class="abs" style="left:931px;top:250.5px;width:538px;height:164.5px;overflow:hidden">
<div class="abs" style="left:0;top:0;width:524.5px;height:170px;background:#ffdde1"></div>
</div>
<div class="abs" style="left:931px;top:270.0px;width:524.5px;height:1px;background:#e3c9cd"></div>
<div class="td" style="left:934.3px;top:255.00px;font-size:10.6px;transform:scaleX(0.995);transform-origin:left;">Overdue...</div>
<div class="td" style="left:993.2px;top:255.00px;font-size:10.6px;transform:scaleX(0.972);transform-origin:left;">0B007</div>
<div class="td" style="left:1037.5px;top:255.00px;font-size:10.6px;transform:scaleX(1.0);transform-origin:left;color:#7a7a7a">...</div>
<div class="td r" style="left:1063.8px;width:40px;top:255.00px;font-size:10.6px;transform:scaleX(1.0);transform-origin:right;">2375</div>
<div class="td r" style="left:1109.6px;width:40px;top:255.00px;font-size:10.6px;transform:scaleX(1.0);transform-origin:right;">10</div>
<div class="td" style="left:1157.4px;top:255.00px;font-size:10.6px;transform:scaleX(1.0);transform-origin:left;">Montar</div>
<div class="td" style="left:1199.8px;top:255.00px;font-size:10.6px;transform:scaleX(1.0);transform-origin:left;">15/09/2020 14:19</div>
<div class="td" style="left:1294.8px;top:255.00px;font-size:10.6px;transform:scaleX(1.0);transform-origin:left;">16/09/2020 11:44</div>
<div class="td" style="left:1394.4px;top:255.00px;font-size:10.6px;transform:scaleX(1.0);transform-origin:left;">16/08/2018</div>
<div class="abs" style="left:931px;top:290.0px;width:524.5px;height:1px;background:#e3c9cd"></div>
<div class="td" style="left:934.3px;top:275.00px;font-size:10.6px;transform:scaleX(0.995);transform-origin:left;">Overdue...</div>
<div class="td" style="left:993.2px;top:275.00px;font-size:10.6px;transform:scaleX(0.972);transform-origin:left;">0B007</div>
<div class="td" style="left:1037.5px;top:275.00px;font-size:10.6px;transform:scaleX(1.0);transform-origin:left;color:#7a7a7a">...</div>
<div class="td r" style="left:1063.8px;width:40px;top:275.00px;font-size:10.6px;transform:scaleX(1.0);transform-origin:right;">2375</div>
<div class="td r" style="left:1109.6px;width:40px;top:275.00px;font-size:10.6px;transform:scaleX(1.0);transform-origin:right;">10</div>
<div class="td" style="left:1157.4px;top:275.00px;font-size:10.6px;transform:scaleX(1.0);transform-origin:left;">Montar</div>
<div class="td" style="left:1199.8px;top:275.00px;font-size:10.6px;transform:scaleX(1.0);transform-origin:left;">16/09/2020 11:44</div>
<div class="td" style="left:1294.8px;top:275.00px;font-size:10.6px;transform:scaleX(1.0);transform-origin:left;">16/09/2020 12:10</div>
<div class="td" style="left:1394.4px;top:275.00px;font-size:10.6px;transform:scaleX(1.0);transform-origin:left;">16/08/2018</div>
<div class="abs" style="left:931px;top:311.0px;width:524.5px;height:1px;background:#e3c9cd"></div>
<div class="td" style="left:934.3px;top:295.00px;font-size:10.6px;transform:scaleX(0.995);transform-origin:left;">Overdue...</div>
<div class="td" style="left:993.2px;top:295.00px;font-size:10.6px;transform:scaleX(0.972);transform-origin:left;">0B007</div>
<div class="td" style="left:1037.5px;top:295.00px;font-size:10.6px;transform:scaleX(1.0);transform-origin:left;color:#7a7a7a">...</div>
<div class="td r" style="left:1063.8px;width:40px;top:295.00px;font-size:10.6px;transform:scaleX(1.0);transform-origin:right;">3210</div>
<div class="td r" style="left:1109.6px;width:40px;top:295.00px;font-size:10.6px;transform:scaleX(1.0);transform-origin:right;">10</div>
<div class="td" style="left:1157.4px;top:295.00px;font-size:10.6px;transform:scaleX(1.0);transform-origin:left;">Asse...</div>
<div class="td" style="left:1199.8px;top:295.00px;font-size:10.6px;transform:scaleX(1.0);transform-origin:left;">21/06/2021 9:30</div>
<div class="td" style="left:1294.8px;top:295.00px;font-size:10.6px;transform:scaleX(1.0);transform-origin:left;">21/06/2021 10:00</div>
<div class="td" style="left:1394.4px;top:295.00px;font-size:10.6px;transform:scaleX(1.0);transform-origin:left;">25/06/2021</div>
<div class="abs" style="left:931px;top:331.0px;width:524.5px;height:1px;background:#e3c9cd"></div>
<div class="td" style="left:934.3px;top:316.00px;font-size:10.6px;transform:scaleX(0.995);transform-origin:left;">Overdue...</div>
<div class="td" style="left:993.2px;top:316.00px;font-size:10.6px;transform:scaleX(0.972);transform-origin:left;">0B007</div>
<div class="td" style="left:1037.5px;top:316.00px;font-size:10.6px;transform:scaleX(1.0);transform-origin:left;color:#7a7a7a">...</div>
<div class="td r" style="left:1063.8px;width:40px;top:316.00px;font-size:10.6px;transform:scaleX(1.0);transform-origin:right;">3210</div>
<div class="td r" style="left:1109.6px;width:40px;top:316.00px;font-size:10.6px;transform:scaleX(1.0);transform-origin:right;">20</div>
<div class="td" style="left:1157.4px;top:316.00px;font-size:10.6px;transform:scaleX(1.0);transform-origin:left;">Asse...</div>
<div class="td" style="left:1199.8px;top:316.00px;font-size:10.6px;transform:scaleX(1.0);transform-origin:left;">21/06/2021 9:00</div>
<div class="td" style="left:1294.8px;top:316.00px;font-size:10.6px;transform:scaleX(1.0);transform-origin:left;">21/06/2021 9:30</div>
<div class="td" style="left:1394.4px;top:316.00px;font-size:10.6px;transform:scaleX(1.0);transform-origin:left;">13/08/2020</div>
<div class="abs" style="left:931px;top:351.0px;width:524.5px;height:1px;background:#e3c9cd"></div>
<div class="td" style="left:934.3px;top:336.00px;font-size:10.6px;transform:scaleX(0.995);transform-origin:left;">Overdue...</div>
<div class="td" style="left:993.2px;top:336.00px;font-size:10.6px;transform:scaleX(0.972);transform-origin:left;">0B007</div>
<div class="td" style="left:1037.5px;top:336.00px;font-size:10.6px;transform:scaleX(1.0);transform-origin:left;color:#7a7a7a">...</div>
<div class="td r" style="left:1063.8px;width:40px;top:336.00px;font-size:10.6px;transform:scaleX(1.0);transform-origin:right;">3341</div>
<div class="td r" style="left:1109.6px;width:40px;top:336.00px;font-size:10.6px;transform:scaleX(1.0);transform-origin:right;">10</div>
<div class="td" style="left:1157.4px;top:336.00px;font-size:10.6px;transform:scaleX(1.0);transform-origin:left;">Asse...</div>
<div class="td" style="left:1199.8px;top:336.00px;font-size:10.6px;transform:scaleX(1.0);transform-origin:left;">18/06/2021 15:57</div>
<div class="td" style="left:1294.8px;top:336.00px;font-size:10.6px;transform:scaleX(1.0);transform-origin:left;">18/06/2021 16:23</div>
<div class="td" style="left:1394.4px;top:336.00px;font-size:10.6px;transform:scaleX(1.0);transform-origin:left;">25/06/2021</div>
<div class="abs" style="left:931px;top:371.0px;width:524.5px;height:1px;background:#e3c9cd"></div>
<div class="td" style="left:934.3px;top:357.00px;font-size:10.6px;transform:scaleX(0.995);transform-origin:left;">Overdue...</div>
<div class="td" style="left:993.2px;top:357.00px;font-size:10.6px;transform:scaleX(0.972);transform-origin:left;">0B007</div>
<div class="td" style="left:1037.5px;top:357.00px;font-size:10.6px;transform:scaleX(1.0);transform-origin:left;color:#7a7a7a">...</div>
<div class="td r" style="left:1063.8px;width:40px;top:357.00px;font-size:10.6px;transform:scaleX(1.0);transform-origin:right;">3362</div>
<div class="td r" style="left:1109.6px;width:40px;top:357.00px;font-size:10.6px;transform:scaleX(1.0);transform-origin:right;">40</div>
<div class="td" style="left:1157.4px;top:357.00px;font-size:10.6px;transform:scaleX(1.0);transform-origin:left;">Asse...</div>
<div class="td" style="left:1199.8px;top:357.00px;font-size:10.6px;transform:scaleX(1.0);transform-origin:left;">18/06/2021 15:04</div>
<div class="td" style="left:1294.8px;top:357.00px;font-size:10.6px;transform:scaleX(1.0);transform-origin:left;">22/06/2021 16:09</div>
<div class="td" style="left:1394.4px;top:357.00px;font-size:10.6px;transform:scaleX(1.0);transform-origin:left;">17/02/2021</div>
<div class="abs" style="left:931px;top:392.0px;width:524.5px;height:1px;background:#e3c9cd"></div>
<div class="td" style="left:934.3px;top:377.00px;font-size:10.6px;transform:scaleX(0.995);transform-origin:left;">Overdue...</div>
<div class="td" style="left:993.2px;top:377.00px;font-size:10.6px;transform:scaleX(0.972);transform-origin:left;">0B007</div>
<div class="td" style="left:1037.5px;top:377.00px;font-size:10.6px;transform:scaleX(1.0);transform-origin:left;color:#7a7a7a">...</div>
<div class="td r" style="left:1063.8px;width:40px;top:377.00px;font-size:10.6px;transform:scaleX(1.0);transform-origin:right;">3362</div>
<div class="td r" style="left:1109.6px;width:40px;top:377.00px;font-size:10.6px;transform:scaleX(1.0);transform-origin:right;">50</div>
<div class="td" style="left:1157.4px;top:377.00px;font-size:10.6px;transform:scaleX(1.0);transform-origin:left;">Asse...</div>
<div class="td" style="left:1199.8px;top:377.00px;font-size:10.6px;transform:scaleX(1.0);transform-origin:left;">18/06/2021 15:04</div>
<div class="td" style="left:1294.8px;top:377.00px;font-size:10.6px;transform:scaleX(1.0);transform-origin:left;">22/06/2021 16:09</div>
<div class="td" style="left:1394.4px;top:377.00px;font-size:10.6px;transform:scaleX(1.0);transform-origin:left;">17/02/2021</div>
<div class="abs" style="left:931px;top:412.0px;width:524.5px;height:1px;background:#e3c9cd"></div>
<div class="td" style="left:934.3px;top:397.00px;font-size:10.6px;transform:scaleX(0.995);transform-origin:left;">Overdue...</div>
<div class="td" style="left:993.2px;top:397.00px;font-size:10.6px;transform:scaleX(0.972);transform-origin:left;">0B007</div>
<div class="td" style="left:1037.5px;top:397.00px;font-size:10.6px;transform:scaleX(1.0);transform-origin:left;color:#7a7a7a">...</div>
<div class="td r" style="left:1063.8px;width:40px;top:397.00px;font-size:10.6px;transform:scaleX(1.0);transform-origin:right;">3364</div>
<div class="td r" style="left:1109.6px;width:40px;top:397.00px;font-size:10.6px;transform:scaleX(1.0);transform-origin:right;">10</div>
<div class="td" style="left:1157.4px;top:397.00px;font-size:10.6px;transform:scaleX(1.0);transform-origin:left;">Asse...</div>
<div class="td" style="left:1199.8px;top:397.00px;font-size:10.6px;transform:scaleX(1.0);transform-origin:left;">30/06/2021 10:30</div>
<div class="td" style="left:1294.8px;top:397.00px;font-size:10.6px;transform:scaleX(1.0);transform-origin:left;">02/07/2021 10:55</div>
<div class="td" style="left:1394.4px;top:397.00px;font-size:10.6px;transform:scaleX(1.0);transform-origin:left;">17/02/2021</div>
<div class="abs" style="left:989px;top:251px;width:1px;height:164px;background:#dcc6ca"></div>
<div class="abs" style="left:1050px;top:251px;width:1px;height:164px;background:#dcc6ca"></div>
<div class="abs" style="left:1107px;top:251px;width:1px;height:164px;background:#dcc6ca"></div>
<div class="abs" style="left:1153px;top:251px;width:1px;height:164px;background:#dcc6ca"></div>
<div class="abs" style="left:1195px;top:251px;width:1px;height:164px;background:#dcc6ca"></div>
<div class="abs" style="left:1290px;top:251px;width:1px;height:164px;background:#dcc6ca"></div>
<div class="abs" style="left:1389px;top:251px;width:1px;height:164px;background:#dcc6ca"></div>
<div class="abs" style="left:1455px;top:251px;width:1px;height:164px;background:#e8d8da"></div>
<div class="abs" style="left:1455px;top:250.5px;width:15px;height:165.0px;background:#eeeeee"></div>
<div class="abs" style="left:1456px;top:252px;width:13.5px;height:14.5px;background:#fff;border:1px solid #c2c2c2"></div>
<svg class="abs" style="left:1459.2px;top:257px" width="7.2" height="4.2" viewBox="0 0 6 4"><path d="M3 0.3 L5.8 3.7 H0.2 Z" fill="#848484"/></svg>
<div class="abs" style="left:1456px;top:266.5px;width:13.5px;height:16.5px;background:#fff;border:1px solid #c2c2c2;border-top:none"></div>
<div class="abs" style="left:1456px;top:399.0px;width:13.5px;height:14.5px;background:#fff;border:1px solid #c2c2c2"></div>
<svg class="abs" style="left:1459.2px;top:404.5px" width="7.2" height="4.2" viewBox="0 0 6 4"><path d="M0.2 0.3 H5.8 L3 3.7 Z" fill="#848484"/></svg>
<div class="abs" style="left:931px;top:415px;width:540px;height:2px;background:#ffffff"></div>
<div class="abs" style="left:931px;top:414.5px;width:539px;height:1px;background:#dedede"></div>
<div class="abs" style="left:948.5px;top:482.3px;width:505.0999999999999px;height:56.49999999999994px;background:#d0d0d0;border-left:1px solid #b4b4b4;border-top:1px solid #b4b4b4;overflow:hidden">
<div class="fc" style="left:-0.50px;top:-0.50px;width:24.38px;height:19.00px">0<span class="d">.</span></div>
<div class="fc" style="left:23.88px;top:-0.50px;width:24.38px;height:19.00px"><span class="d">...</span></div>
<div class="fc" style="left:48.26px;top:-0.50px;width:24.38px;height:19.00px"><span class="d">...</span></div>
<div class="fc" style="left:72.64px;top:-0.50px;width:24.38px;height:19.00px">D<span class="d">.</span></div>
<div class="fc" style="left:97.02px;top:-0.50px;width:24.38px;height:19.00px">I<span class="d">..</span></div>
<div class="fc" style="left:121.39px;top:-0.50px;width:24.38px;height:19.00px"><span class="d">...</span></div>
<div class="fc" style="left:145.77px;top:-0.50px;width:24.38px;height:19.00px">P<span class="d">.</span></div>
<div class="fc" style="left:170.15px;top:-0.50px;width:24.38px;height:19.00px">P<span class="d">..</span></div>
<div class="fc" style="left:194.53px;top:-0.50px;width:24.38px;height:19.00px"><span class="d">...</span></div>
<div class="fc" style="left:218.91px;top:-0.50px;width:24.38px;height:19.00px"><span class="d">...</span></div>
<div class="fc" style="left:243.29px;top:-0.50px;width:24.38px;height:19.00px"><span class="d">...</span></div>
<div class="fc" style="left:267.67px;top:-0.50px;width:24.38px;height:19.00px">0<span class="d">..</span></div>
<div class="fc" style="left:292.05px;top:-0.50px;width:24.38px;height:19.00px">0<span class="d">.</span></div>
<div class="fc" style="left:316.43px;top:-0.50px;width:24.38px;height:19.00px">0<span class="d">.</span></div>
<div class="fc" style="left:340.81px;top:-0.50px;width:24.38px;height:19.00px"><span class="d">...</span></div>
<div class="fc" style="left:365.18px;top:-0.50px;width:24.38px;height:19.00px"><span class="d">...</span></div>
<div class="fc" style="left:389.56px;top:-0.50px;width:24.38px;height:19.00px"><span class="d">...</span></div>
<div class="fc" style="left:413.94px;top:-0.50px;width:24.38px;height:19.00px">C<span class="d">.</span></div>
<div class="fc" style="left:438.32px;top:-0.50px;width:24.38px;height:19.00px"><span class="d">...</span></div>
<div class="fc" style="left:-0.50px;top:18.50px;width:24.38px;height:18.70px"><span class="d">...</span></div>
<div class="fc" style="left:23.88px;top:18.50px;width:24.38px;height:18.70px"><span class="d">...</span></div>
<div class="fc" style="left:48.26px;top:18.50px;width:24.38px;height:18.70px"><span class="d">...</span></div>
<div class="fc" style="left:72.64px;top:18.50px;width:24.38px;height:18.70px">D<span class="d">.</span></div>
<div class="fc" style="left:97.02px;top:18.50px;width:24.38px;height:18.70px">I<span class="d">..</span></div>
<div class="fc" style="left:121.39px;top:18.50px;width:24.38px;height:18.70px"><span class="d">...</span></div>
<div class="fc" style="left:145.77px;top:18.50px;width:24.38px;height:18.70px">P<span class="d">.</span></div>
<div class="fc" style="left:170.15px;top:18.50px;width:24.38px;height:18.70px">P<span class="d">..</span></div>
<div class="fc" style="left:194.53px;top:18.50px;width:24.38px;height:18.70px"><span class="d">...</span></div>
<div class="fc" style="left:218.91px;top:18.50px;width:24.38px;height:18.70px"><span class="d">...</span></div>
<div class="fc" style="left:243.29px;top:18.50px;width:24.38px;height:18.70px"><span class="d">...</span></div>
<div class="fc" style="left:267.67px;top:18.50px;width:24.38px;height:18.70px">0<span class="d">..</span></div>
<div class="fc" style="left:292.05px;top:18.50px;width:24.38px;height:18.70px">0<span class="d">.</span></div>
<div class="fc" style="left:316.43px;top:18.50px;width:24.38px;height:18.70px">0<span class="d">.</span></div>
<div class="fc" style="left:340.81px;top:18.50px;width:24.38px;height:18.70px"><span class="d">...</span></div>
<div class="fc" style="left:365.18px;top:18.50px;width:24.38px;height:18.70px">0<span class="d">..</span></div>
<div class="fc" style="left:389.56px;top:18.50px;width:24.38px;height:18.70px"><span class="d">...</span></div>
<div class="fc" style="left:413.94px;top:18.50px;width:24.38px;height:18.70px"><span class="d">...</span></div>
<div class="fc" style="left:438.32px;top:18.50px;width:24.38px;height:18.70px"><span class="d">...</span></div>
<div class="fc" style="left:-0.50px;top:37.20px;width:24.38px;height:18.80px"><span class="d">...</span></div>
<div class="fc" style="left:23.88px;top:37.20px;width:24.38px;height:18.80px"><span class="d">...</span></div>
<div class="fc" style="left:48.26px;top:37.20px;width:24.38px;height:18.80px"><span class="d">...</span></div>
<div class="fc" style="left:72.64px;top:37.20px;width:24.38px;height:18.80px">I<span class="d">..</span></div>
<div class="fc" style="left:97.02px;top:37.20px;width:24.38px;height:18.80px">L<span class="d">..</span></div>
<div class="fc" style="left:121.39px;top:37.20px;width:24.38px;height:18.80px"><span class="d">...</span></div>
<div class="fc" style="left:145.77px;top:37.20px;width:24.38px;height:18.80px">P<span class="d">.</span></div>
<div class="fc" style="left:170.15px;top:37.20px;width:24.38px;height:18.80px"><span class="d">...</span></div>
<div class="fc" style="left:194.53px;top:37.20px;width:24.38px;height:18.80px"><span class="d">...</span></div>
<div class="fc" style="left:218.91px;top:37.20px;width:24.38px;height:18.80px"><span class="d">...</span></div>
<div class="fc" style="left:243.29px;top:37.20px;width:24.38px;height:18.80px"><span class="d">...</span></div>
<div class="fc" style="left:267.67px;top:37.20px;width:24.38px;height:18.80px">0<span class="d">..</span></div>
<div class="fc" style="left:292.05px;top:37.20px;width:24.38px;height:18.80px">0<span class="d">.</span></div>
<div class="fc" style="left:316.43px;top:37.20px;width:24.38px;height:18.80px">0<span class="d">.</span></div>
<div class="fc" style="left:340.81px;top:37.20px;width:24.38px;height:18.80px"><span class="d">...</span></div>
<div class="fc" style="left:365.18px;top:37.20px;width:24.38px;height:18.80px"><span class="d">...</span></div>
<div class="fc" style="left:389.56px;top:37.20px;width:24.38px;height:18.80px">C<span class="d">.</span></div>
<div class="fc" style="left:413.94px;top:37.20px;width:24.38px;height:18.80px">D<span class="d"></span></div>
<div class="fc" style="left:438.32px;top:37.20px;width:24.38px;height:18.80px"><span class="d">...</span></div>
<div class="fc" style="left:462.70px;top:-0.50px;width:20.10px;height:21.70px"><span class="d">..</span></div>
<div class="fc" style="left:482.80px;top:-0.50px;width:21.80px;height:21.70px"><span class="d">...</span></div>
<div class="fc" style="left:462.70px;top:21.20px;width:26.80px;height:17.40px">D<span class="d">..</span></div>
<div class="fc" style="left:462.70px;top:38.60px;width:26.80px;height:17.40px"><span class="d">...</span></div>
<div class="fc" style="left:489.50px;top:21.20px;width:15.10px;height:34.80px"><span class="d"></span></div>
</div>
</div></body></html>
